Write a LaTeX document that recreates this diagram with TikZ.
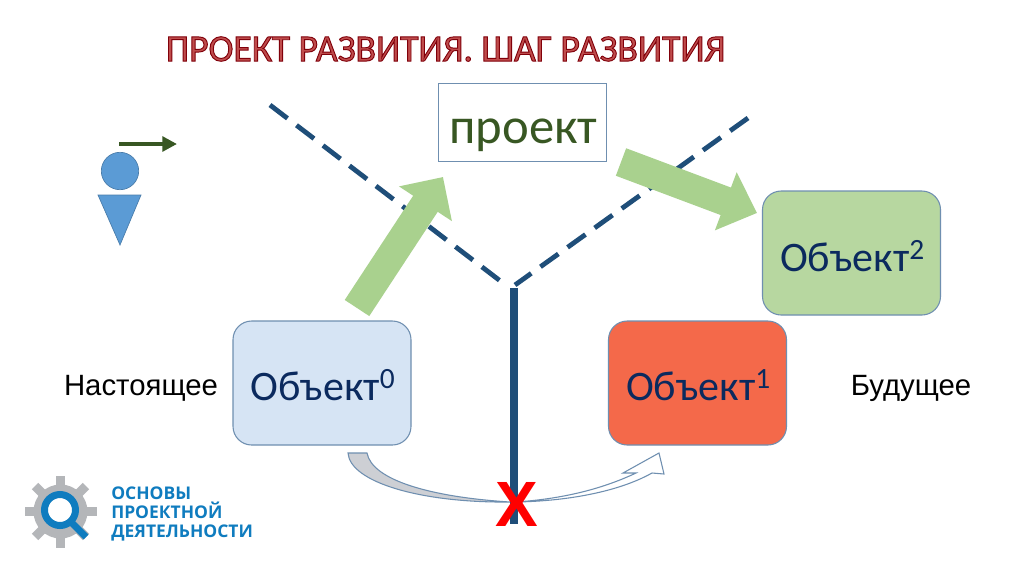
\documentclass[tikz,border=0pt]{standalone}
\usepackage{fontspec}
\setmainfont{Carlito}
\newfontfamily\arialf{Liberation Sans}
\newfontfamily\logof{Open Sans}
\usetikzlibrary{arrows.meta}
\definecolor{dashblue}{HTML}{1F4E79}
\definecolor{navytext}{HTML}{0B2A5E}
\definecolor{greentext}{HTML}{385723}
\definecolor{arrowgreen}{HTML}{A9D18E}
\definecolor{persona}{HTML}{5B9BD5}
\definecolor{logoblue}{HTML}{0F7CBF}
\definecolor{logogrey}{HTML}{B4B6B9}
\definecolor{edgeblue}{HTML}{6F8FB0}
\definecolor{objzero}{HTML}{D6E4F4}
\definecolor{objone}{HTML}{F4694A}
\definecolor{objtwo}{HTML}{B7D7A0}
\definecolor{curvegrey}{HTML}{CDCFD4}
\newcommand{\fs}[1]{\fontsize{#1}{#1}\selectfont}
\newcommand{\lowered}[2]{\raisebox{-#1pt}[0pt][0pt]{\hspace{1.5pt}#2}}
\tikzset{
  objbox/.style={draw=edgeblue,line width=0.8pt,rounded corners=14pt,minimum width=133.5pt,minimum height=93pt,inner sep=0pt,text=navytext,font=\fs{31.5}},
  sidelabel/.style={text=black,font=\arialf\fs{22},inner sep=0pt},
  dashline/.style={draw=dashblue,line width=3.6pt,dash pattern=on 16.5pt off 8.5pt},
  blockarrow/.style={draw=arrowgreen,line width=22pt},
  logotext/.style={text=logoblue,font=\logof\bfseries\fs{13.1},anchor=base west,inner sep=0pt},
  gearpart/.style={fill=logogrey,draw=none},
}
\begin{document}
\begin{tikzpicture}[x=0.75pt,y=-0.75pt]
\useasboundingbox (0,0) rectangle (1024,576);
\fill[white] (0,0) rectangle (1024,576);
% title
\node[inner sep=0pt,font=\fs{28.2}] (title) at (445.5,49) {\special{pdf:code 2 Tr 0.7 w 0.5 0 0.04 RG 0.75 0.3 0.3 rg}ПРОЕКТ РАЗВИТИЯ. ШАГ РАЗВИТИЯ\special{pdf:code 0 Tr}};
% dashed axes
\coordinate (dl1) at (270,105);
\coordinate (dl2) at (503,283);
\coordinate (dr1) at (515,285);
\coordinate (dr2) at (748,118);
\coordinate (v1) at (514,288);
\coordinate (v2) at (514,524);
\draw[dashline] (dl1) -- (dl2);
\draw[dashline] (dr2) -- (dr1);
\draw[draw=dashblue,line width=6pt] (v1) -- (v2);
% boxes
\node[draw=edgeblue,line width=0.8pt,minimum width=126.5pt,minimum height=59pt,inner sep=0pt,text=greentext,font=\fs{38}] (proj) at (522.5,122.5) {\lowered{15.4}{проект}};
\node[objbox,fill=objzero] (o0) at (322,383) {\lowered{13}{Объект\textsuperscript{0}}};
\node[objbox,fill=objone] (o1) at (697.5,383) {\lowered{13}{Объект\textsuperscript{1}}};
\node[objbox,fill=objtwo] (o2) at (851.5,253) {\lowered{14}{Объект\textsuperscript{2}}};
% block arrows
\coordinate (a1s) at (357,308);
\coordinate (a1e) at (443,177);
\coordinate (a2s) at (621,162);
\coordinate (a2e) at (757,213);
\draw[blockarrow,-{Triangle[length=24pt,width=46pt]}] (a1s) -- (a1e);
\draw[blockarrow,-{Triangle[length=25pt,width=45pt]}] (a2s) -- (a2e);
% person
\fill[persona,draw=persona!80!black,line width=0.5pt] (120,171) ellipse [x radius=18.7,y radius=18.7];
\fill[persona,draw=persona!80!black,line width=0.5pt] (98,195) -- (141,195) -- (120,245) -- cycle;
\coordinate (ps) at (119,144);
\coordinate (pe) at (177,144);
\draw[draw=greentext,line width=3pt,-{Triangle[length=11pt,width=11pt]}] (ps) -- (pe);
% side labels
\node[sidelabel] (now) at (141,388) {Настоящее};
\node[sidelabel] (fut) at (911,388) {Будущее};
% curved arrow
\fill[fill=curvegrey,draw=edgeblue,line width=0.8pt]
  (348,453) -- (367,453) .. controls (372,480) and (430,497) .. (510,502)
  .. controls (420,503) and (350,482) .. (348,453) -- cycle;
\fill[white,draw=edgeblue,line width=0.8pt]
  (516,502) .. controls (570,501) and (620,491) .. (652,473) -- (664,474) -- (659,453) -- (623,473) -- (636,473)
  .. controls (600,490) and (560,499) .. (516,502) -- cycle;
% red X
\node[inner sep=0pt,text=red,font=\arialf\bfseries\fs{48}] (xmark) at (517,504) {X};
% logo
\foreach \a in {0,45,...,315}{
  \fill[gearpart,rotate around={\a:(60.5,511.5)}] (56,475.5) rectangle (65,490);
}
\fill[gearpart] (60.5,511.5) circle [radius=27];
\draw[draw=logoblue,fill=white,line width=5.25pt] (60,510) circle [radius=15.5];
\draw[draw=logoblue,line width=5.25pt] (72,523) -- (86,537);
\node[logotext] (l1) at (111,499.5) {ОСНОВЫ};
\node[logotext] (l2) at (111,518.5) {ПРОЕКТНОЙ};
\node[logotext] (l3) at (111,537) {ДЕЯТЕЛЬНОСТИ};
\end{tikzpicture}
\end{document}
